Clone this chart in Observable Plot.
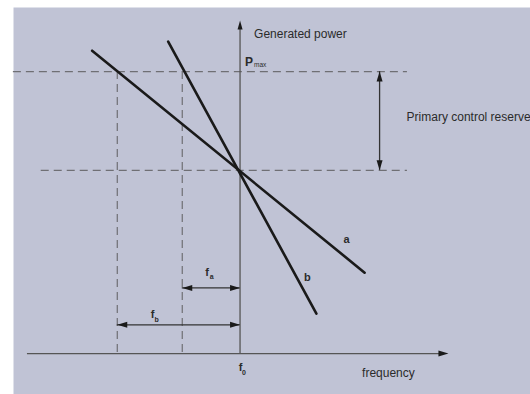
<!DOCTYPE html>
<html>
<head>
<meta charset="utf-8">
<script src="https://cdn.jsdelivr.net/npm/d3@7"></script>
<script src="https://cdn.jsdelivr.net/npm/@observablehq/plot@0.6"></script>
<style>
  html, body { margin: 0; padding: 0; background: #fff; }
  #chart svg { display: block; }
</style>
</head>
<body>
<div id="chart"></div>
<script>
// Frequency (Hz) and generated power (% of Pmax) for the droop diagram
const f0 = 50;            // nominal frequency
const fa = 49.807;        // frequency at which droop a reaches Pmax
const fb = 49.59;         // frequency at which droop b reaches Pmax
const P0 = 65;            // operating point power
const Pmax = 100;         // maximum generated power

// Droop characteristics (end points)
const droopA = [{f: 49.506, P: 107.4}, {f: 50.416, P: 28.7}];
const droopB = [{f: 49.760, P: 110.6}, {f: 50.255, P: 14.2}];

// Extents of guides and annotations
const fMin = 49.2, fMax = 50.97;
const PMin = -14.5, PTop = 125.2;
const xAxisFrom = 49.29, xAxisTo = 50.696;
const yAxisTo = 118.1;
const guideRight = 50.559, guidePmaxLeft = 49.243, guideP0Left = 49.336;
const reserveF = 50.466;
const arrowFaP = 23.3, arrowFbP = 10.2;

const labelA = "a", labelB = "b";
const yTitle = "Generated power";
const xTitle = "frequency";
const reserveLabel = "Primary control reserve";

const ink = "#1a1a1a";
const axisInk = "#555";
const dashInk = "#6f6f74";
const textInk = "#2b2b2b";
const font = "Liberation Sans, Arial, sans-serif";

// Filled, slightly elongated arrowhead; the tip sits on the anchor point
function head(dir, L, W) {
  const rot = {right: 0, left: Math.PI, up: -Math.PI / 2, down: Math.PI / 2}[dir];
  const c = Math.cos(rot), s = Math.sin(rot);
  const pt = (x, y) => [x * c - y * s, x * s + y * c];
  return {
    draw(ctx) {
      const a = pt(0, 0), b = pt(-L, -W / 2), d = pt(-L, W / 2);
      ctx.moveTo(a[0], a[1]);
      ctx.lineTo(b[0], b[1]);
      ctx.lineTo(d[0], d[1]);
      ctx.closePath();
    }
  };
}

const headsRight = [{f: xAxisTo, P: 0}, {f: f0, P: arrowFaP}, {f: f0, P: arrowFbP}];
const headsLeft = [{f: fa, P: arrowFaP}, {f: fb, P: arrowFbP}];
const headsUp = [{f: reserveF, P: Pmax}];
const headsDown = [{f: reserveF, P: P0}];

const txt = (data, o) => Plot.text(data, {fontFamily: font, fill: textInk, ...o});

const chart = Plot.plot({
  width: 530,
  height: 394,
  margin: 0,
  x: {domain: [fMin, fMax], axis: null},
  y: {domain: [PMin, PTop], axis: null},
  marks: [
    Plot.frame({fill: "#c0c3d5", stroke: null, insetLeft: 13, insetTop: 7}),

    // dashed guides
    Plot.ruleY([Pmax], {x1: guidePmaxLeft, x2: guideRight, stroke: dashInk, strokeWidth: 1.2, strokeDasharray: "8,5"}),
    Plot.ruleY([P0], {x1: guideP0Left, x2: guideRight, stroke: dashInk, strokeWidth: 1.2, strokeDasharray: "8,5"}),
    Plot.ruleX([fa, fb], {y1: Pmax, y2: 0, stroke: dashInk, strokeWidth: 1.2, strokeDasharray: "8,5"}),

    // axes
    Plot.ruleY([0], {x1: xAxisFrom, x2: xAxisTo - 0.02, stroke: axisInk, strokeWidth: 1.4}),
    Plot.ruleX([f0], {y1: 0, y2: yAxisTo - 2, stroke: axisInk, strokeWidth: 1.3}),
    Plot.dot([{f: f0, P: yAxisTo}], {x: "f", y: "P", symbol: head("up", 9, 5), fill: ink, stroke: null}),

    // droop lines
    Plot.line(droopA, {x: "f", y: "P", stroke: ink, strokeWidth: 2.6, strokeLinecap: "round"}),
    Plot.line(droopB, {x: "f", y: "P", stroke: ink, strokeWidth: 2.6, strokeLinecap: "round"}),

    // double arrows
    Plot.ruleX([reserveF], {y1: P0, y2: Pmax, stroke: "#333", strokeWidth: 1.3}),
    Plot.ruleY([arrowFaP], {x1: fa, x2: f0, stroke: "#333", strokeWidth: 1.3}),
    Plot.ruleY([arrowFbP], {x1: fb, x2: f0, stroke: "#333", strokeWidth: 1.3}),
    Plot.dot(headsRight, {x: "f", y: "P", symbol: head("right", 10, 6), fill: ink, stroke: null}),
    Plot.dot(headsLeft, {x: "f", y: "P", symbol: head("left", 10, 6), fill: ink, stroke: null}),
    Plot.dot(headsUp, {x: "f", y: "P", symbol: head("up", 10, 6), fill: ink, stroke: null}),
    Plot.dot(headsDown, {x: "f", y: "P", symbol: head("down", 10, 6), fill: ink, stroke: null}),

    // labels
    txt([yTitle], {x: f0, y: yAxisTo, text: d => d, dx: 14, dy: 14, textAnchor: "start", fontSize: 12}),
    txt(["P"], {x: f0, y: Pmax, text: d => d, dx: 5, dy: -9, textAnchor: "start", fontSize: 12, fontWeight: "bold"}),
    txt(["max"], {x: f0, y: Pmax, text: d => d, dx: 14, dy: -7, textAnchor: "start", fontSize: 6.5}),
    txt([reserveLabel], {x: reserveF, y: (P0 + Pmax) / 2, text: d => d, dx: 27, dy: -4, textAnchor: "start", fontSize: 12}),
    txt([labelA], {x: droopA[1].f, y: droopA[1].P, text: d => d, dx: -18, dy: -33, fontSize: 11, fontWeight: "bold"}),
    txt([labelB], {x: droopB[1].f, y: droopB[1].P, text: d => d, dx: -9, dy: -36, fontSize: 11, fontWeight: "bold"}),
    txt(["f"], {x: (fa + f0) / 2, y: arrowFaP, text: d => d, dx: -4, dy: -15, fontSize: 11, fontWeight: "bold"}),
    txt(["a"], {x: (fa + f0) / 2, y: arrowFaP, text: d => d, dx: 0.5, dy: -11, fontSize: 7, fontWeight: "bold"}),
    txt(["f"], {x: (fb + f0) / 2, y: arrowFbP, text: d => d, dx: -26, dy: -10, fontSize: 11, fontWeight: "bold"}),
    txt(["b"], {x: (fb + f0) / 2, y: arrowFbP, text: d => d, dx: -22, dy: -5, fontSize: 7, fontWeight: "bold"}),
    txt(["f"], {x: f0, y: 0, text: d => d, dx: 0.5, dy: 14, fontSize: 11, fontWeight: "bold"}),
    txt(["0"], {x: f0, y: 0, text: d => d, dx: 4, dy: 19, fontSize: 7, fontWeight: "bold"}),
    txt([xTitle], {x: f0, y: 0, text: d => d, dx: 122, dy: 20, textAnchor: "start", fontSize: 12})
  ]
});
document.getElementById("chart").append(chart);
</script>
</body>
</html>
